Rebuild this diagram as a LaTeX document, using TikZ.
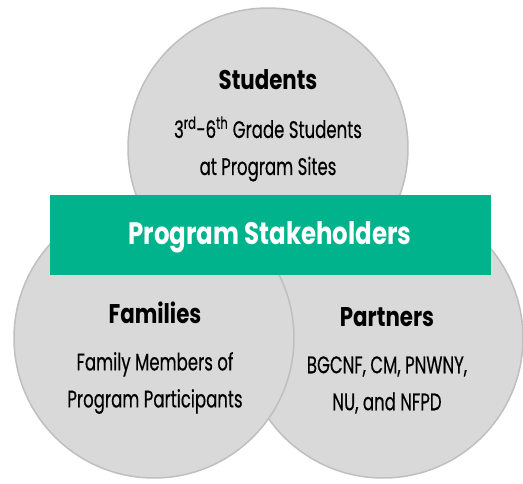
\documentclass[tikz,border=0pt]{standalone}
\usepackage{fontspec}
\setmainfont{Poppins}[FakeStretch=0.69,FakeBold=0.4]
\newfontfamily\headfont{Poppins}[FakeStretch=0.79]
\definecolor{circfill}{HTML}{D9D9D9}
\definecolor{circline}{HTML}{BFBFBF}
\definecolor{bandgreen}{HTML}{00B38C}
\begin{document}
\begin{tikzpicture}[x=1pt,y=-1pt,
  group/.style={draw=circline,fill=circfill,line width=1.5pt,circle,minimum size=280pt,inner sep=0pt},
  title/.style={font=\headfont\fontsize{27}{30}\selectfont\bfseries,text=black},
  body/.style={font=\fontsize{24}{37}\selectfont,text=black,align=center},
  band/.style={fill=bandgreen,minimum width=441pt,minimum height=80pt,inner sep=0pt},
  bandtext/.style={font=\headfont\fontsize{31}{34}\selectfont\bfseries,text=white}]
\useasboundingbox (0,0) rectangle (523,484);
% the three stakeholder groups
\node[group] (students) at (268,148) {};
\node[group] (partners) at (383,338) {};
\node[group] (families) at (154,338) {};
% central banner
\node[band] (banner) at (270.5,235) {};
\node[bandtext] (bannerT) at (270,237) {Program Stakeholders};
% group texts
\node[title] (studT) at (268,80) {Students};
\node[body] (studB) at (268,149) {3\textsuperscript{rd}-6\textsuperscript{th} Grade Students\\at Program Sites};
\node[title] (famT) at (155,313) {Families};
\node[body] (famB) at (155,383) {Family Members of\\Program Participants};
\node[title] (partT) at (387,317) {Partners};
\node[body] (partB) at (387,385) {BGCNF, CM, PNWNY,\\NU, and NFPD};
\end{tikzpicture}
\end{document}
